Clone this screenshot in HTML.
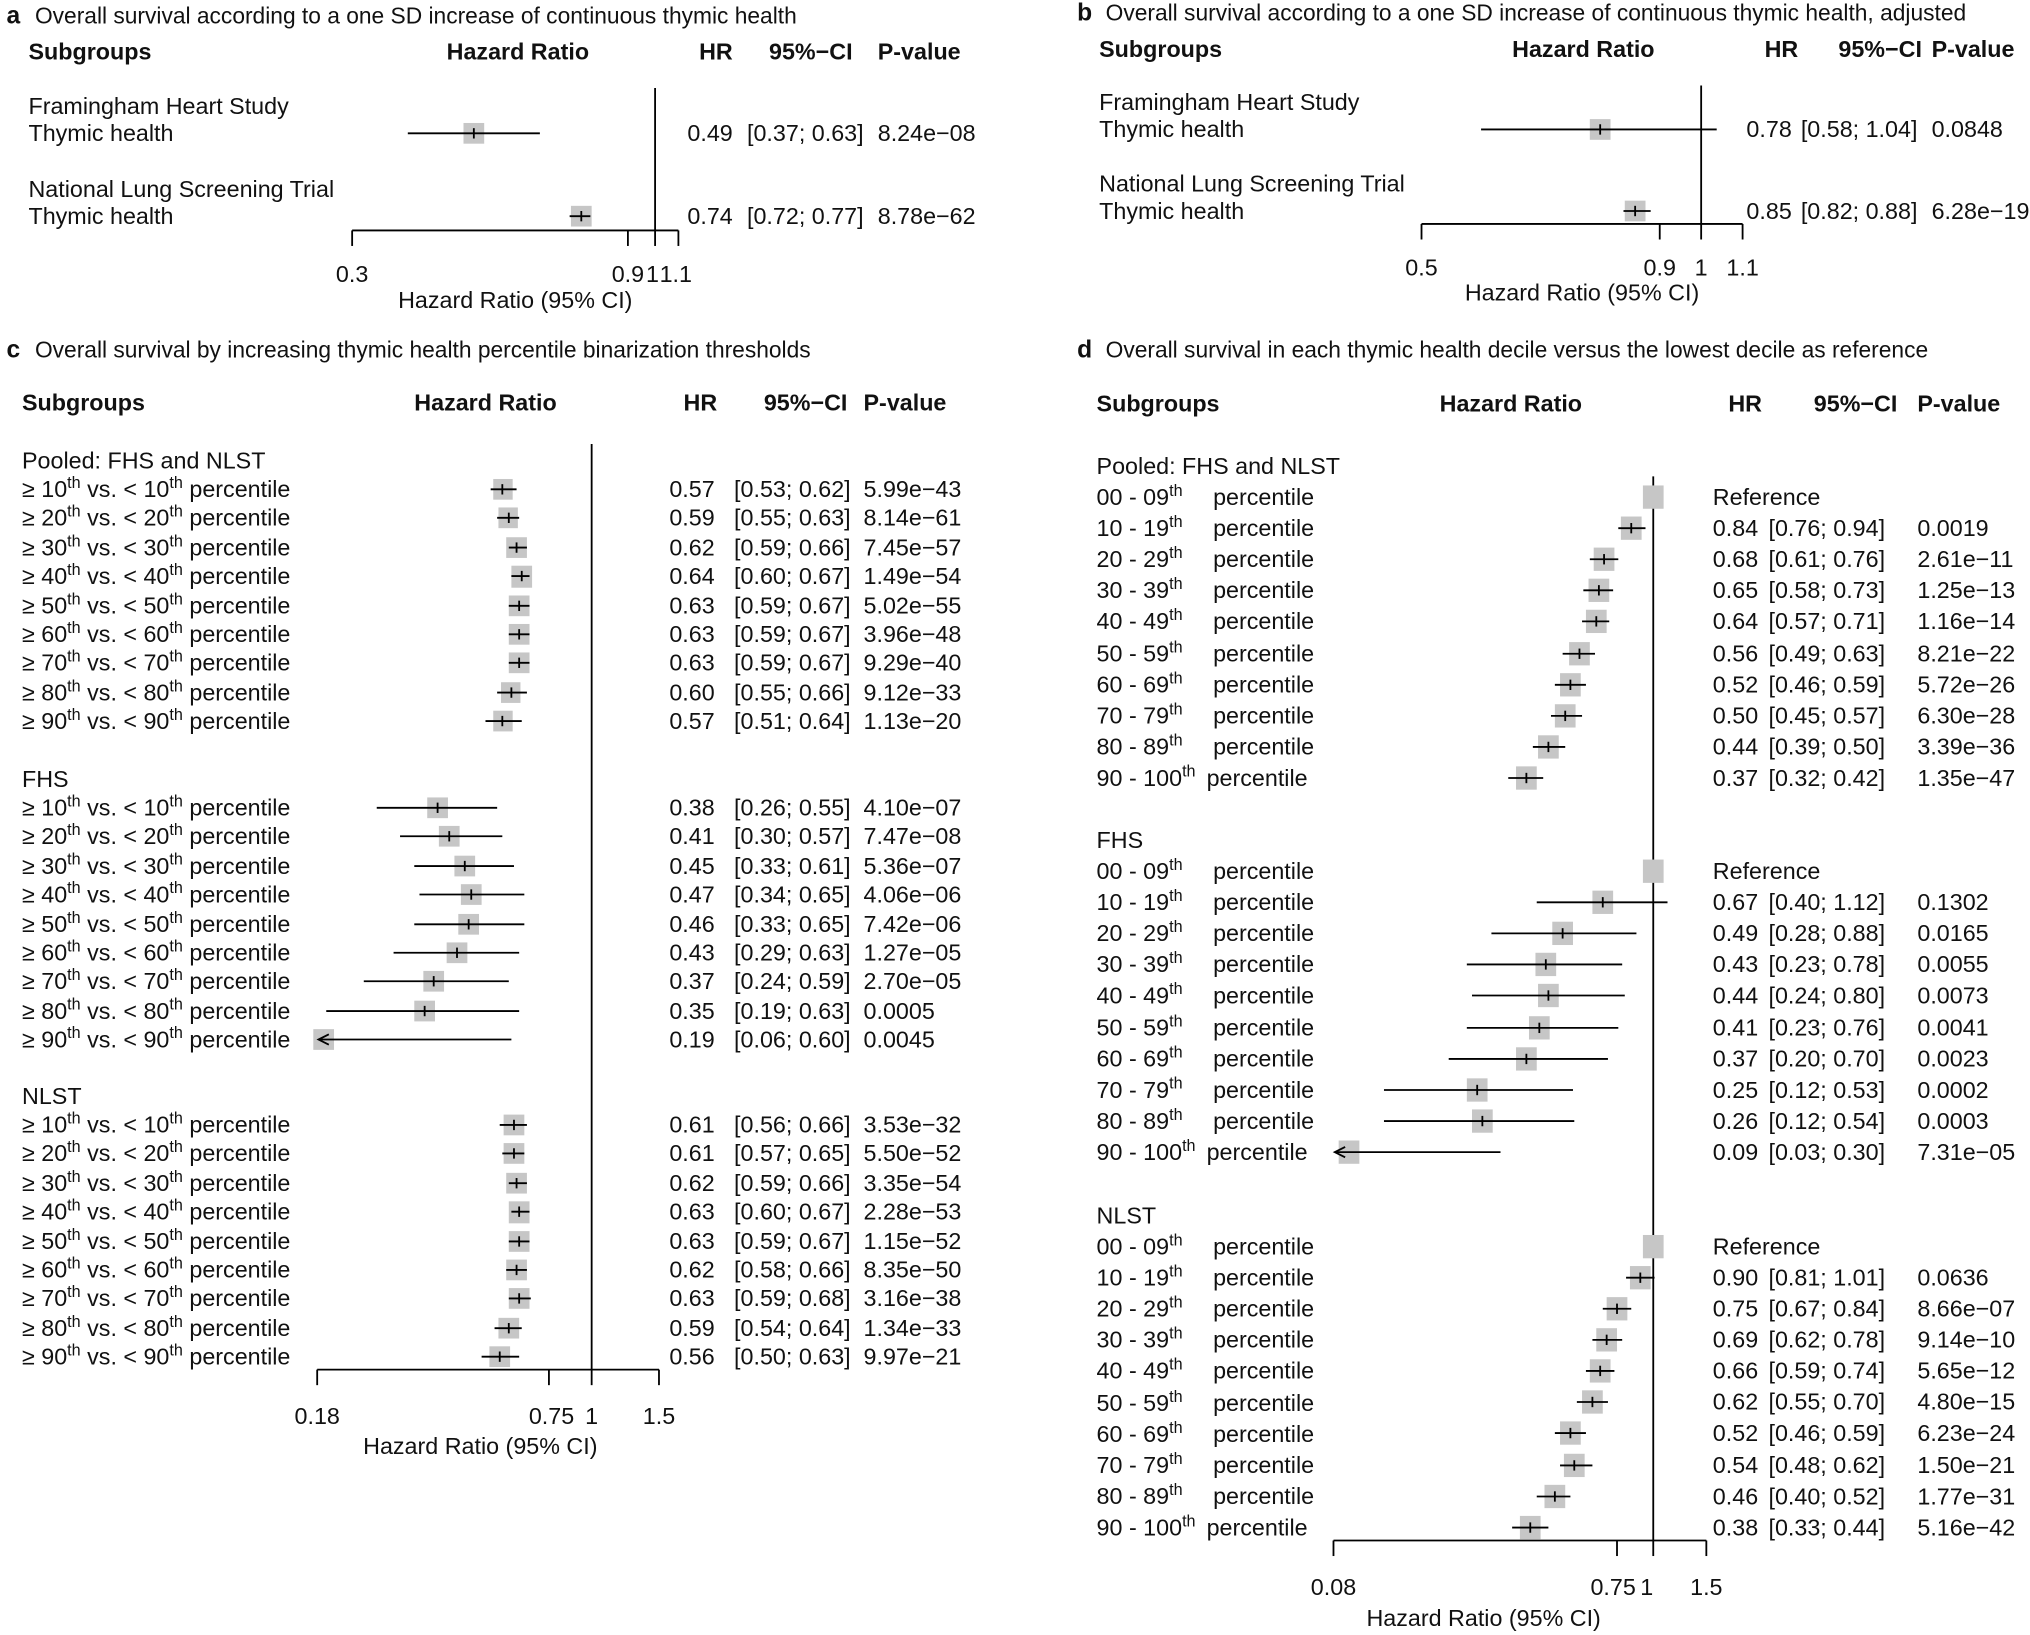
<!DOCTYPE html>
<html><head><meta charset="utf-8"><style>
html,body{margin:0;padding:0;background:#fff}
svg{display:block}
text{font-family:"Liberation Sans",Arial,sans-serif;font-size:18px;fill:#111}
.t{font-size:17.6px}
.b{font-weight:bold;font-size:18px}
.big{font-size:19px;font-weight:bold}
.s{font-size:12.5px}
.e{text-anchor:end}
rect{fill:#c6c6c6}
line{stroke:#000;stroke-width:1.4}
</style></head><body>
<svg width="2030" height="1635" viewBox="0 0 1568 1263" preserveAspectRatio="none" xmlns="http://www.w3.org/2000/svg">
<!-- Panel a -->
<text x="5" y="18" class="big">a</text>
<text x="27" y="18" class="t">Overall survival according to a one SD increase of continuous thymic health</text>
<text x="22" y="46" class="b">Subgroups</text><text x="345" y="46" class="b">Hazard Ratio</text><text x="540" y="46" class="b">HR</text><text x="594" y="46" class="b">95%−CI</text><text x="678" y="46" class="b">P-value</text>
<text x="22" y="88">Framingham Heart Study</text><text x="22" y="109">Thymic health</text>
<text x="22" y="152">National Lung Screening Trial</text><text x="22" y="173">Thymic health</text>
<line x1="506" y1="68" x2="506" y2="178"/>
<rect x="358" y="95" width="16" height="16"/><line x1="315" y1="103" x2="417" y2="103"/><line x1="366" y1="99" x2="366" y2="107"/>
<rect x="441" y="159" width="16" height="16"/><line x1="440" y1="167" x2="456" y2="167"/><line x1="449" y1="163" x2="449" y2="171"/>
<text x="566" y="109" class="e">0.49</text><text x="577" y="109">[0.37; 0.63]</text><text x="678" y="109">8.24e−08</text>
<text x="566" y="173" class="e">0.74</text><text x="577" y="173">[0.72; 0.77]</text><text x="678" y="173">8.78e−62</text>
<line x1="272" y1="178" x2="524" y2="178"/>
<line x1="272" y1="178" x2="272" y2="190"/><line x1="485" y1="178" x2="485" y2="190"/><line x1="506" y1="178" x2="506" y2="190"/><line x1="524" y1="178" x2="524" y2="190"/>
<text x="272" y="218" text-anchor="middle">0.3</text><text x="485" y="218" text-anchor="middle">0.9</text><text x="504" y="218" text-anchor="middle">1</text><text x="522" y="218" text-anchor="middle">1.1</text>
<text x="398" y="238" text-anchor="middle">Hazard Ratio (95% CI)</text>

<!-- Panel b -->
<text x="832" y="16" class="big">b</text>
<text x="854" y="16" class="t">Overall survival according to a one SD increase of continuous thymic health, adjusted</text>
<text x="849" y="44" class="b">Subgroups</text><text x="1168" y="44" class="b">Hazard Ratio</text><text x="1363" y="44" class="b">HR</text><text x="1420" y="44" class="b">95%−CI</text><text x="1492" y="44" class="b">P-value</text>
<text x="849" y="85">Framingham Heart Study</text><text x="849" y="106">Thymic health</text>
<text x="849" y="148">National Lung Screening Trial</text><text x="849" y="169">Thymic health</text>
<line x1="1314" y1="66" x2="1314" y2="173"/>
<rect x="1228" y="92" width="16" height="16"/><line x1="1144" y1="100" x2="1326" y2="100"/><line x1="1236" y1="96" x2="1236" y2="104"/>
<rect x="1255" y="155" width="16" height="16"/><line x1="1254" y1="163" x2="1275" y2="163"/><line x1="1263" y1="159" x2="1263" y2="167"/>
<text x="1384" y="106" class="e">0.78</text><text x="1391" y="106">[0.58; 1.04]</text><text x="1492" y="106">0.0848</text>
<text x="1384" y="169" class="e">0.85</text><text x="1391" y="169">[0.82; 0.88]</text><text x="1492" y="169">6.28e−19</text>
<line x1="1098" y1="173" x2="1346" y2="173"/>
<line x1="1098" y1="173" x2="1098" y2="185"/><line x1="1282" y1="173" x2="1282" y2="185"/><line x1="1314" y1="173" x2="1314" y2="185"/><line x1="1346" y1="173" x2="1346" y2="185"/>
<text x="1098" y="213" text-anchor="middle">0.5</text><text x="1282" y="213" text-anchor="middle">0.9</text><text x="1314" y="213" text-anchor="middle">1</text><text x="1346" y="213" text-anchor="middle">1.1</text>
<text x="1222" y="232" text-anchor="middle">Hazard Ratio (95% CI)</text>

<!-- Panel c -->
<text x="5" y="276" class="big">c</text>
<text x="27" y="276" class="t">Overall survival by increasing thymic health percentile binarization thresholds</text>
<text x="17" y="317" class="b">Subgroups</text><text x="320" y="317" class="b">Hazard Ratio</text><text x="528" y="317" class="b">HR</text><text x="590" y="317" class="b">95%−CI</text><text x="667" y="317" class="b">P-value</text>
<text x="17" y="362">Pooled: FHS and NLST</text>
<text x="17" y="608">FHS</text>
<text x="17" y="853">NLST</text>
<line x1="457" y1="343" x2="457" y2="1058"/>
<g id="clab">
<text x="17" y="384">≥ 10<tspan class="s" dy="-7">th</tspan><tspan dy="7"> vs. &lt; 10</tspan><tspan class="s" dy="-7">th</tspan><tspan dy="7"> percentile</tspan></text>
<text x="17" y="406">≥ 20<tspan class="s" dy="-7">th</tspan><tspan dy="7"> vs. &lt; 20</tspan><tspan class="s" dy="-7">th</tspan><tspan dy="7"> percentile</tspan></text>
<text x="17" y="429">≥ 30<tspan class="s" dy="-7">th</tspan><tspan dy="7"> vs. &lt; 30</tspan><tspan class="s" dy="-7">th</tspan><tspan dy="7"> percentile</tspan></text>
<text x="17" y="451">≥ 40<tspan class="s" dy="-7">th</tspan><tspan dy="7"> vs. &lt; 40</tspan><tspan class="s" dy="-7">th</tspan><tspan dy="7"> percentile</tspan></text>
<text x="17" y="474">≥ 50<tspan class="s" dy="-7">th</tspan><tspan dy="7"> vs. &lt; 50</tspan><tspan class="s" dy="-7">th</tspan><tspan dy="7"> percentile</tspan></text>
<text x="17" y="496">≥ 60<tspan class="s" dy="-7">th</tspan><tspan dy="7"> vs. &lt; 60</tspan><tspan class="s" dy="-7">th</tspan><tspan dy="7"> percentile</tspan></text>
<text x="17" y="518">≥ 70<tspan class="s" dy="-7">th</tspan><tspan dy="7"> vs. &lt; 70</tspan><tspan class="s" dy="-7">th</tspan><tspan dy="7"> percentile</tspan></text>
<text x="17" y="541">≥ 80<tspan class="s" dy="-7">th</tspan><tspan dy="7"> vs. &lt; 80</tspan><tspan class="s" dy="-7">th</tspan><tspan dy="7"> percentile</tspan></text>
<text x="17" y="563">≥ 90<tspan class="s" dy="-7">th</tspan><tspan dy="7"> vs. &lt; 90</tspan><tspan class="s" dy="-7">th</tspan><tspan dy="7"> percentile</tspan></text>
</g>
<use href="#clab" y="246"/>
<use href="#clab" y="491"/>
<g>
<text x="517" y="384">0.57</text><text x="567" y="384">[0.53; 0.62]</text><text x="667" y="384">5.99e−43</text>
<text x="517" y="406">0.59</text><text x="567" y="406">[0.55; 0.63]</text><text x="667" y="406">8.14e−61</text>
<text x="517" y="429">0.62</text><text x="567" y="429">[0.59; 0.66]</text><text x="667" y="429">7.45e−57</text>
<text x="517" y="451">0.64</text><text x="567" y="451">[0.60; 0.67]</text><text x="667" y="451">1.49e−54</text>
<text x="517" y="474">0.63</text><text x="567" y="474">[0.59; 0.67]</text><text x="667" y="474">5.02e−55</text>
<text x="517" y="496">0.63</text><text x="567" y="496">[0.59; 0.67]</text><text x="667" y="496">3.96e−48</text>
<text x="517" y="518">0.63</text><text x="567" y="518">[0.59; 0.67]</text><text x="667" y="518">9.29e−40</text>
<text x="517" y="541">0.60</text><text x="567" y="541">[0.55; 0.66]</text><text x="667" y="541">9.12e−33</text>
<text x="517" y="563">0.57</text><text x="567" y="563">[0.51; 0.64]</text><text x="667" y="563">1.13e−20</text>
<text x="517" y="630">0.38</text><text x="567" y="630">[0.26; 0.55]</text><text x="667" y="630">4.10e−07</text>
<text x="517" y="652">0.41</text><text x="567" y="652">[0.30; 0.57]</text><text x="667" y="652">7.47e−08</text>
<text x="517" y="675">0.45</text><text x="567" y="675">[0.33; 0.61]</text><text x="667" y="675">5.36e−07</text>
<text x="517" y="697">0.47</text><text x="567" y="697">[0.34; 0.65]</text><text x="667" y="697">4.06e−06</text>
<text x="517" y="720">0.46</text><text x="567" y="720">[0.33; 0.65]</text><text x="667" y="720">7.42e−06</text>
<text x="517" y="742">0.43</text><text x="567" y="742">[0.29; 0.63]</text><text x="667" y="742">1.27e−05</text>
<text x="517" y="764">0.37</text><text x="567" y="764">[0.24; 0.59]</text><text x="667" y="764">2.70e−05</text>
<text x="517" y="787">0.35</text><text x="567" y="787">[0.19; 0.63]</text><text x="667" y="787">0.0005</text>
<text x="517" y="809">0.19</text><text x="567" y="809">[0.06; 0.60]</text><text x="667" y="809">0.0045</text>
<text x="517" y="875">0.61</text><text x="567" y="875">[0.56; 0.66]</text><text x="667" y="875">3.53e−32</text>
<text x="517" y="897">0.61</text><text x="567" y="897">[0.57; 0.65]</text><text x="667" y="897">5.50e−52</text>
<text x="517" y="920">0.62</text><text x="567" y="920">[0.59; 0.66]</text><text x="667" y="920">3.35e−54</text>
<text x="517" y="942">0.63</text><text x="567" y="942">[0.60; 0.67]</text><text x="667" y="942">2.28e−53</text>
<text x="517" y="965">0.63</text><text x="567" y="965">[0.59; 0.67]</text><text x="667" y="965">1.15e−52</text>
<text x="517" y="987">0.62</text><text x="567" y="987">[0.58; 0.66]</text><text x="667" y="987">8.35e−50</text>
<text x="517" y="1009">0.63</text><text x="567" y="1009">[0.59; 0.68]</text><text x="667" y="1009">3.16e−38</text>
<text x="517" y="1032">0.59</text><text x="567" y="1032">[0.54; 0.64]</text><text x="667" y="1032">1.34e−33</text>
<text x="517" y="1054">0.56</text><text x="567" y="1054">[0.50; 0.63]</text><text x="667" y="1054">9.97e−21</text>
</g>
<g>
<rect x="381" y="370" width="15" height="16"/><line x1="379" y1="378" x2="399" y2="378"/><line x1="388" y1="374" x2="388" y2="382"/>
<rect x="385" y="392" width="15" height="16"/><line x1="384" y1="400" x2="401" y2="400"/><line x1="393" y1="396" x2="393" y2="404"/>
<rect x="391" y="415" width="16" height="16"/><line x1="393" y1="423" x2="407" y2="423"/><line x1="399" y1="419" x2="399" y2="427"/>
<rect x="395" y="437" width="16" height="17"/><line x1="395" y1="445" x2="409" y2="445"/><line x1="403" y1="441" x2="403" y2="449"/>
<rect x="393" y="460" width="16" height="16"/><line x1="393" y1="468" x2="409" y2="468"/><line x1="401" y1="464" x2="401" y2="472"/>
<rect x="393" y="482" width="16" height="16"/><line x1="393" y1="490" x2="409" y2="490"/><line x1="401" y1="486" x2="401" y2="494"/>
<rect x="393" y="504" width="16" height="16"/><line x1="393" y1="512" x2="409" y2="512"/><line x1="401" y1="508" x2="401" y2="516"/>
<rect x="387" y="527" width="15" height="16"/><line x1="384" y1="535" x2="407" y2="535"/><line x1="395" y1="531" x2="395" y2="539"/>
<rect x="381" y="549" width="15" height="16"/><line x1="375" y1="557" x2="403" y2="557"/><line x1="388" y1="553" x2="388" y2="561"/>

<rect x="330" y="616" width="16" height="16"/><line x1="291" y1="624" x2="384" y2="624"/><line x1="338" y1="620" x2="338" y2="628"/>
<rect x="339" y="638" width="16" height="16"/><line x1="309" y1="646" x2="388" y2="646"/><line x1="347" y1="642" x2="347" y2="650"/>
<rect x="351" y="661" width="16" height="16"/><line x1="320" y1="669" x2="397" y2="669"/><line x1="359" y1="665" x2="359" y2="673"/>
<rect x="356" y="683" width="16" height="16"/><line x1="324" y1="691" x2="405" y2="691"/><line x1="364" y1="687" x2="364" y2="695"/>
<rect x="354" y="706" width="16" height="16"/><line x1="320" y1="714" x2="405" y2="714"/><line x1="362" y1="710" x2="362" y2="718"/>
<rect x="345" y="728" width="16" height="16"/><line x1="304" y1="736" x2="401" y2="736"/><line x1="353" y1="732" x2="353" y2="740"/>
<rect x="327" y="750" width="16" height="16"/><line x1="281" y1="758" x2="393" y2="758"/><line x1="335" y1="754" x2="335" y2="762"/>
<rect x="320" y="773" width="16" height="16"/><line x1="252" y1="781" x2="401" y2="781"/><line x1="328" y1="777" x2="328" y2="785"/>
<rect x="242" y="795" width="16" height="16"/><line x1="246" y1="803" x2="395" y2="803"/><polyline points="254,799 246,803 254,807" fill="none" stroke="#000" stroke-width="1.4"/>

<rect x="389" y="861" width="16" height="16"/><line x1="386" y1="869" x2="407" y2="869"/><line x1="397" y1="865" x2="397" y2="873"/>
<rect x="389" y="883" width="16" height="16"/><line x1="388" y1="891" x2="405" y2="891"/><line x1="397" y1="887" x2="397" y2="895"/>
<rect x="391" y="906" width="16" height="16"/><line x1="393" y1="914" x2="407" y2="914"/><line x1="399" y1="910" x2="399" y2="918"/>
<rect x="393" y="928" width="16" height="17"/><line x1="395" y1="936" x2="409" y2="936"/><line x1="401" y1="932" x2="401" y2="940"/>
<rect x="393" y="951" width="16" height="16"/><line x1="393" y1="959" x2="409" y2="959"/><line x1="401" y1="955" x2="401" y2="963"/>
<rect x="391" y="973" width="16" height="16"/><line x1="391" y1="981" x2="407" y2="981"/><line x1="399" y1="977" x2="399" y2="985"/>
<rect x="393" y="995" width="16" height="16"/><line x1="393" y1="1003" x2="410" y2="1003"/><line x1="401" y1="999" x2="401" y2="1007"/>
<rect x="385" y="1018" width="16" height="16"/><line x1="382" y1="1026" x2="403" y2="1026"/><line x1="393" y1="1022" x2="393" y2="1030"/>
<rect x="378" y="1040" width="16" height="16"/><line x1="372" y1="1048" x2="401" y2="1048"/><line x1="386" y1="1044" x2="386" y2="1052"/>
</g>
<line x1="245" y1="1058" x2="509" y2="1058"/>
<line x1="245" y1="1058" x2="245" y2="1070"/><line x1="424" y1="1058" x2="424" y2="1070"/><line x1="457" y1="1058" x2="457" y2="1070"/><line x1="509" y1="1058" x2="509" y2="1070"/>
<text x="245" y="1100" text-anchor="middle">0.18</text><text x="426" y="1100" text-anchor="middle">0.75</text><text x="457" y="1100" text-anchor="middle">1</text><text x="509" y="1100" text-anchor="middle">1.5</text>
<text x="371" y="1123" text-anchor="middle">Hazard Ratio (95% CI)</text>

<!-- Panel d -->
<text x="832" y="276" class="big">d</text>
<text x="854" y="276" class="t">Overall survival in each thymic health decile versus the lowest decile as reference</text>
<text x="847" y="318" class="b">Subgroups</text><text x="1112" y="318" class="b">Hazard Ratio</text><text x="1335" y="318" class="b">HR</text><text x="1401" y="318" class="b">95%−CI</text><text x="1481" y="318" class="b">P-value</text>
<text x="847" y="366">Pooled: FHS and NLST</text>
<text x="847" y="655">FHS</text>
<text x="847" y="945">NLST</text>
<line x1="1277" y1="368" x2="1277" y2="1190"/>
<g id="dlab">
<text x="847" y="390">00 - 09<tspan class="s" dy="-7">th</tspan></text><text x="937" y="390">percentile</text>
<text x="847" y="414">10 - 19<tspan class="s" dy="-7">th</tspan></text><text x="937" y="414">percentile</text>
<text x="847" y="438">20 - 29<tspan class="s" dy="-7">th</tspan></text><text x="937" y="438">percentile</text>
<text x="847" y="462">30 - 39<tspan class="s" dy="-7">th</tspan></text><text x="937" y="462">percentile</text>
<text x="847" y="486">40 - 49<tspan class="s" dy="-7">th</tspan></text><text x="937" y="486">percentile</text>
<text x="847" y="511">50 - 59<tspan class="s" dy="-7">th</tspan></text><text x="937" y="511">percentile</text>
<text x="847" y="535">60 - 69<tspan class="s" dy="-7">th</tspan></text><text x="937" y="535">percentile</text>
<text x="847" y="559">70 - 79<tspan class="s" dy="-7">th</tspan></text><text x="937" y="559">percentile</text>
<text x="847" y="583">80 - 89<tspan class="s" dy="-7">th</tspan></text><text x="937" y="583">percentile</text>
<text x="847" y="607">90 - 100<tspan class="s" dy="-7">th</tspan></text><text x="932" y="607">percentile</text>
</g>
<use href="#dlab" y="289"/>
<use href="#dlab" y="579"/>
<g>
<text x="1323" y="390">Reference</text>
<text x="1323" y="414">0.84</text><text x="1366" y="414">[0.76; 0.94]</text><text x="1481" y="414">0.0019</text>
<text x="1323" y="438">0.68</text><text x="1366" y="438">[0.61; 0.76]</text><text x="1481" y="438">2.61e−11</text>
<text x="1323" y="462">0.65</text><text x="1366" y="462">[0.58; 0.73]</text><text x="1481" y="462">1.25e−13</text>
<text x="1323" y="486">0.64</text><text x="1366" y="486">[0.57; 0.71]</text><text x="1481" y="486">1.16e−14</text>
<text x="1323" y="511">0.56</text><text x="1366" y="511">[0.49; 0.63]</text><text x="1481" y="511">8.21e−22</text>
<text x="1323" y="535">0.52</text><text x="1366" y="535">[0.46; 0.59]</text><text x="1481" y="535">5.72e−26</text>
<text x="1323" y="559">0.50</text><text x="1366" y="559">[0.45; 0.57]</text><text x="1481" y="559">6.30e−28</text>
<text x="1323" y="583">0.44</text><text x="1366" y="583">[0.39; 0.50]</text><text x="1481" y="583">3.39e−36</text>
<text x="1323" y="607">0.37</text><text x="1366" y="607">[0.32; 0.42]</text><text x="1481" y="607">1.35e−47</text>
<text x="1323" y="679">Reference</text>
<text x="1323" y="703">0.67</text><text x="1366" y="703">[0.40; 1.12]</text><text x="1481" y="703">0.1302</text>
<text x="1323" y="727">0.49</text><text x="1366" y="727">[0.28; 0.88]</text><text x="1481" y="727">0.0165</text>
<text x="1323" y="751">0.43</text><text x="1366" y="751">[0.23; 0.78]</text><text x="1481" y="751">0.0055</text>
<text x="1323" y="775">0.44</text><text x="1366" y="775">[0.24; 0.80]</text><text x="1481" y="775">0.0073</text>
<text x="1323" y="800">0.41</text><text x="1366" y="800">[0.23; 0.76]</text><text x="1481" y="800">0.0041</text>
<text x="1323" y="824">0.37</text><text x="1366" y="824">[0.20; 0.70]</text><text x="1481" y="824">0.0023</text>
<text x="1323" y="848">0.25</text><text x="1366" y="848">[0.12; 0.53]</text><text x="1481" y="848">0.0002</text>
<text x="1323" y="872">0.26</text><text x="1366" y="872">[0.12; 0.54]</text><text x="1481" y="872">0.0003</text>
<text x="1323" y="896">0.09</text><text x="1366" y="896">[0.03; 0.30]</text><text x="1481" y="896">7.31e−05</text>
<text x="1323" y="969">Reference</text>
<text x="1323" y="993">0.90</text><text x="1366" y="993">[0.81; 1.01]</text><text x="1481" y="993">0.0636</text>
<text x="1323" y="1017">0.75</text><text x="1366" y="1017">[0.67; 0.84]</text><text x="1481" y="1017">8.66e−07</text>
<text x="1323" y="1041">0.69</text><text x="1366" y="1041">[0.62; 0.78]</text><text x="1481" y="1041">9.14e−10</text>
<text x="1323" y="1065">0.66</text><text x="1366" y="1065">[0.59; 0.74]</text><text x="1481" y="1065">5.65e−12</text>
<text x="1323" y="1089">0.62</text><text x="1366" y="1089">[0.55; 0.70]</text><text x="1481" y="1089">4.80e−15</text>
<text x="1323" y="1113">0.52</text><text x="1366" y="1113">[0.46; 0.59]</text><text x="1481" y="1113">6.23e−24</text>
<text x="1323" y="1138">0.54</text><text x="1366" y="1138">[0.48; 0.62]</text><text x="1481" y="1138">1.50e−21</text>
<text x="1323" y="1162">0.46</text><text x="1366" y="1162">[0.40; 0.52]</text><text x="1481" y="1162">1.77e−31</text>
<text x="1323" y="1186">0.38</text><text x="1366" y="1186">[0.33; 0.44]</text><text x="1481" y="1186">5.16e−42</text>
</g>
<g>
<rect x="1269" y="375" width="16" height="18"/>
<rect x="1252" y="399" width="16" height="18"/><line x1="1250" y1="408" x2="1271" y2="408"/><line x1="1260" y1="404" x2="1260" y2="412"/>
<rect x="1231" y="423" width="16" height="18"/><line x1="1228" y1="432" x2="1250" y2="432"/><line x1="1239" y1="428" x2="1239" y2="436"/>
<rect x="1227" y="447" width="16" height="18"/><line x1="1223" y1="456" x2="1246" y2="456"/><line x1="1235" y1="452" x2="1235" y2="460"/>
<rect x="1225" y="471" width="16" height="18"/><line x1="1222" y1="480" x2="1243" y2="480"/><line x1="1233" y1="476" x2="1233" y2="484"/>
<rect x="1212" y="496" width="16" height="18"/><line x1="1207" y1="505" x2="1232" y2="505"/><line x1="1220" y1="501" x2="1220" y2="509"/>
<rect x="1205" y="520" width="16" height="18"/><line x1="1201" y1="529" x2="1225" y2="529"/><line x1="1213" y1="525" x2="1213" y2="533"/>
<rect x="1201" y="544" width="16" height="18"/><line x1="1198" y1="553" x2="1222" y2="553"/><line x1="1209" y1="549" x2="1209" y2="557"/>
<rect x="1188" y="568" width="16" height="18"/><line x1="1184" y1="577" x2="1209" y2="577"/><line x1="1196" y1="573" x2="1196" y2="581"/>
<rect x="1171" y="592" width="16" height="18"/><line x1="1165" y1="601" x2="1192" y2="601"/><line x1="1179" y1="597" x2="1179" y2="605"/>

<rect x="1269" y="664" width="16" height="18"/>
<rect x="1230" y="688" width="16" height="18"/><line x1="1187" y1="697" x2="1288" y2="697"/><line x1="1238" y1="693" x2="1238" y2="701"/>
<rect x="1199" y="712" width="16" height="18"/><line x1="1152" y1="721" x2="1264" y2="721"/><line x1="1207" y1="717" x2="1207" y2="725"/>
<rect x="1186" y="736" width="16" height="18"/><line x1="1133" y1="745" x2="1253" y2="745"/><line x1="1194" y1="741" x2="1194" y2="749"/>
<rect x="1188" y="760" width="16" height="18"/><line x1="1137" y1="769" x2="1255" y2="769"/><line x1="1196" y1="765" x2="1196" y2="773"/>
<rect x="1181" y="785" width="16" height="18"/><line x1="1133" y1="794" x2="1250" y2="794"/><line x1="1189" y1="790" x2="1189" y2="798"/>
<rect x="1171" y="809" width="16" height="18"/><line x1="1119" y1="818" x2="1242" y2="818"/><line x1="1179" y1="814" x2="1179" y2="822"/>
<rect x="1133" y="833" width="16" height="18"/><line x1="1069" y1="842" x2="1215" y2="842"/><line x1="1141" y1="838" x2="1141" y2="846"/>
<rect x="1137" y="857" width="16" height="18"/><line x1="1069" y1="866" x2="1216" y2="866"/><line x1="1145" y1="862" x2="1145" y2="870"/>
<rect x="1034" y="881" width="16" height="18"/><line x1="1031" y1="890" x2="1159" y2="890"/><polyline points="1039,886 1031,890 1039,894" fill="none" stroke="#000" stroke-width="1.4"/>

<rect x="1269" y="954" width="16" height="18"/>
<rect x="1259" y="978" width="16" height="18"/><line x1="1256" y1="987" x2="1278" y2="987"/><line x1="1267" y1="983" x2="1267" y2="991"/>
<rect x="1241" y="1002" width="16" height="18"/><line x1="1238" y1="1011" x2="1260" y2="1011"/><line x1="1249" y1="1007" x2="1249" y2="1015"/>
<rect x="1233" y="1026" width="16" height="18"/><line x1="1230" y1="1035" x2="1253" y2="1035"/><line x1="1241" y1="1031" x2="1241" y2="1039"/>
<rect x="1228" y="1050" width="16" height="18"/><line x1="1225" y1="1059" x2="1247" y2="1059"/><line x1="1236" y1="1055" x2="1236" y2="1063"/>
<rect x="1222" y="1074" width="16" height="18"/><line x1="1218" y1="1083" x2="1242" y2="1083"/><line x1="1230" y1="1079" x2="1230" y2="1087"/>
<rect x="1205" y="1098" width="16" height="18"/><line x1="1201" y1="1107" x2="1225" y2="1107"/><line x1="1213" y1="1103" x2="1213" y2="1111"/>
<rect x="1208" y="1123" width="16" height="18"/><line x1="1205" y1="1132" x2="1230" y2="1132"/><line x1="1216" y1="1128" x2="1216" y2="1136"/>
<rect x="1193" y="1147" width="16" height="18"/><line x1="1187" y1="1156" x2="1213" y2="1156"/><line x1="1201" y1="1152" x2="1201" y2="1160"/>
<rect x="1174" y="1171" width="16" height="18"/><line x1="1168" y1="1180" x2="1196" y2="1180"/><line x1="1182" y1="1176" x2="1182" y2="1184"/>
</g>
<line x1="1030" y1="1190" x2="1318" y2="1190"/>
<line x1="1030" y1="1190" x2="1030" y2="1202"/><line x1="1249" y1="1190" x2="1249" y2="1202"/><line x1="1277" y1="1190" x2="1277" y2="1202"/><line x1="1318" y1="1190" x2="1318" y2="1202"/>
<text x="1030" y="1232" text-anchor="middle">0.08</text><text x="1246" y="1232" text-anchor="middle">0.75</text><text x="1272" y="1232" text-anchor="middle">1</text><text x="1318" y="1232" text-anchor="middle">1.5</text>
<text x="1146" y="1256" text-anchor="middle">Hazard Ratio (95% CI)</text>
</svg>
</body></html>
